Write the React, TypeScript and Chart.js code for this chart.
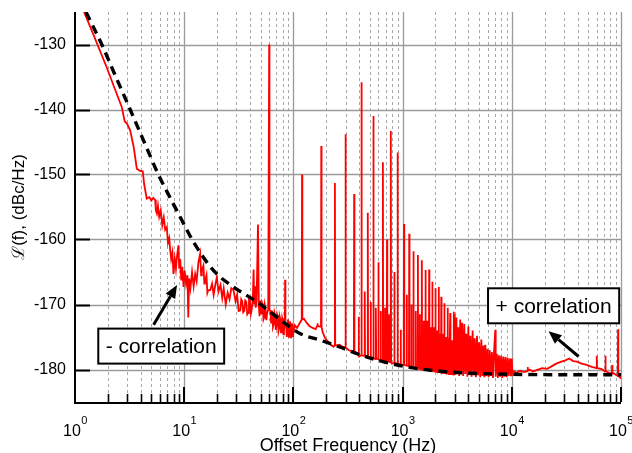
import React, { useEffect, useRef } from "react";
import { Chart, registerables } from "chart.js";

Chart.register(...registerables);

// ---------- axis definitions ----------
const xDecades = [1, 10, 100, 1000, 10000, 100000];
const xDecadeExp = ["0", "1", "2", "3", "4", "5"];
const xMinorMult = [2, 3, 4, 5, 6, 7, 8, 9];
const yTicks = [-180, -170, -160, -150, -140, -130];

// ---------- model curve (black dashed) ----------
const modelFreq = [1.26, 1.76, 2.3, 3.2, 4.3, 5.8, 7.5, 9.7, 12.2, 18.6, 28.3, 46.4, 94, 116, 177, 261, 474, 1100, 2750, 7940, 30000, 100000];
const modelLevel = [-125, -130, -134.5, -140, -145, -150, -153.7, -157.3, -160.4, -164.8, -167.3, -169.6, -173.5, -174.5, -175.5, -176.5, -178.1, -179.6, -180.4, -180.7, -180.8, -180.8];

// ---------- measured trace (red) : [freq Hz, dBc/Hz] ----------
const lowNoise: [number, number][] = [
  [1.21, -125], [1.5, -128.8], [1.95, -133.5], [2.3, -136.7], [2.68, -139.6], [2.85, -141.8], [3.0, -142.2],
  [3.2, -143.2], [3.45, -145.8], [3.68, -149.1], [3.9, -149.4], [4.17, -149.5], [4.3, -151.5], [4.54, -153.7],
  [4.8, -153.5], [5.0, -154], [5.2, -153.6], [5.42, -153.9], [5.5, -155.5], [5.62, -156], [5.75, -154.8],
  [5.9, -156.5], [6.1, -155.5], [6.3, -157.8], [6.5, -156.6], [6.7, -158.5], [6.93, -158.1], [7.1, -160.5],
  [7.3, -159.8], [7.45, -161.7], [7.6, -163], [7.8, -162], [7.97, -165.3], [8.2, -163], [8.4, -164.5],
  [8.6, -162.5], [8.86, -160.9], [9.0, -164.5], [9.2, -163], [9.4, -166.3], [9.6, -164.2], [9.86, -167.3],
  [10.1, -164.8], [10.4, -166.8], [10.7, -165.5], [10.9, -172], [11.1, -166], [11.4, -167.5], [11.8, -165],
  [12.2, -167.2], [12.6, -165.3], [13.0, -166.4], [13.5, -163.5], [14, -162.2], [14.3, -165.5], [14.5, -164.8],
  [15, -164], [15.3, -166.8], [15.5, -166.5], [16, -165.5], [16.3, -168.2], [16.6, -167.8], [17.3, -167.8],
  [18, -166.8], [18.6, -168.5], [19.3, -166.9], [19.9, -165.8], [20.6, -168], [21.5, -167], [22.3, -169],
  [23, -167.5], [24, -170], [25, -168.2], [26, -169.2], [27, -167.5], [28.3, -167.8], [29.5, -169.5],
  [30.5, -168.5], [31.5, -171],
];

const midNoise: [number, number][] = [
  [32.6, -170.9], [33.3, -169.2], [34, -169.5], [34.7, -171.2], [35.5, -171], [36.2, -169.4], [37, -169.6],
  [37.8, -171.5], [38.5, -171.3], [39.2, -169.1], [40, -169.4], [40.8, -171.4], [41.5, -170.8], [42.5, -169.2],
  [43.2, -164.6], [43.8, -170], [44.5, -167.2], [45.2, -170.5], [46, -169.5], [47.4, -157.7], [48.2, -170.2],
  [49, -171.8], [49.7, -169.4], [51, -171.5], [51.7, -169.8], [52.5, -170.2], [53.2, -172.3], [54, -172],
  [54.8, -170.1], [55.5, -170.5], [56.5, -172.4], [57.4, -171.4], [58.8, -170.8], [61.5, -171], [62.5, -172.8],
  [63.2, -170.9], [64, -171.5], [65, -173.4], [66, -173], [67, -171.3], [68, -171.8], [69, -173.9], [70, -173.2],
  [71, -171.6], [72, -172], [73, -174.1], [74, -173.6], [75, -171.9], [76, -172.3], [77, -174.3], [78, -173.8],
  [79, -172.1], [80, -172.5], [81, -174.6], [82, -174], [86, -173.2], [87, -175], [88, -174.2], [89, -172.3],
  [90, -172.8], [91, -175.1], [92, -174.6], [93, -172.6], [94, -173.2], [95, -175.2], [96, -174.8], [97, -172.9],
  [98, -173.3], [99, -175], [100, -174.3],
];

const highBase: [number, number][] = [
  [103, -173.2], [108, -173.6], [113, -173], [125, -172.2], [132, -172.8], [140, -173.3], [150, -173.6],
  [160, -173.8], [175, -173.4], [185, -174.2], [195, -175.2], [205, -175.6], [220, -176.2], [233, -176.5],
  [250, -176.3], [265, -176.2], [280, -176.5], [320, -177], [350, -177.3], [380, -177.6], [400, -178],
  [440, -177.9], [500, -178.2], [560, -178.4], [620, -178.6], [700, -178.9], [800, -179.1], [900, -179.2],
  [1000, -179.3], [1100, -179.4], [1250, -179.7], [1400, -179.9], [1600, -180], [1800, -180.2],
  [2000, -180.3], [2300, -180.5], [2600, -180.6], [2950, -180.8],
];

const bandNoise: [number, number][] = [
  [3000, -171.5], [3050, -180.8], [3110, -172], [3170, -180.5], [3230, -173.5], [3300, -181], [3370, -172.3],
  [3440, -180.6], [3510, -172.8], [3590, -181], [3670, -173], [3750, -180.7], [3830, -174.5], [3920, -181.1],
  [4000, -173.4], [4090, -180.8], [4180, -174.8], [4280, -181.1], [4380, -174], [4480, -180.9], [4580, -175.2],
  [4690, -181.2], [4800, -174.8], [4910, -180.9], [5020, -175.8], [5140, -181.2], [5260, -175.4], [5380, -181],
  [5500, -176.3], [5620, -181.2], [5720, -176.2], [5850, -181], [5990, -176.8], [6130, -181.2], [6270, -177],
  [6420, -181], [6570, -177.3], [6720, -181.3], [6880, -177.2], [7060, -173.9], [7120, -181.1], [7290, -177.6],
  [7460, -181.3], [7630, -177.8], [7810, -181.1], [7990, -177.9], [8180, -181.3], [8370, -178], [8570, -181.1],
  [8770, -178.1], [8970, -181.2], [9180, -178.2], [9400, -181], [9620, -178.3], [9840, -180.9], [10000, -178.3],
  [10100, -180.5],
];

const farNoise: [number, number][] = [
  [10300, -180.2], [11000, -180.5], [11900, -180.2], [13000, -180.4], [14500, -180], [15600, -180.3],
  [16900, -180.1], [19000, -179.8], [21000, -179.9], [22700, -179.6], [25500, -179.1], [28400, -178.8],
  [31000, -178.6], [33500, -178.3], [36500, -178.7], [39500, -178.8], [43500, -179.1], [48500, -179.3],
  [54000, -179.6], [66000, -179.9], [70000, -180.2], [78000, -180.5], [86000, -180.6], [91000, -180.9],
  [97000, -181.1], [100000, -181.4],
];

// spurs: frequency, peak level, floor level
const spurFreq = [60, 84, 120, 166, 180, 240, 300, 360, 396, 420, 450, 480, 510, 540, 570, 600, 630, 660, 690, 720, 750, 780, 840, 900, 960,
  1030, 1090, 1150, 1205, 1260, 1320, 1380, 1440, 1500, 1560, 1620, 1680, 1750, 1810, 1870, 1930, 2000, 2070, 2140, 2200, 2260, 2340, 2410,
  2500, 2580, 2660, 2730, 2830, 2930, 13960, 60000, 72000, 83000, 94000];
const spurPeak = [-130, -166.2, -150, -172.9, -145.6, -151.3, -143.8, -153, -171.9, -135.8, -168, -155.9, -169.6, -141, -170.5, -163.5, -171, -148.1, -170.5, -160, -171.5, -143.3, -165, -146.6, -173.9,
  -157.6, -168.5, -159.1, -170, -161.8, -171, -162.4, -171.5, -163.2, -172.5, -164.7, -172.5, -164.6, -173.5, -166.5, -173.5, -167.5, -174, -167.3, -174.5, -168.8, -174.5, -169.8,
  -175, -170.5, -175.2, -171.3, -175.5, -171.1, -179.6, -177.9, -177.9, -179.3, -173.8];
const spurFloor = [-170.8, -173, -172.3, -173.3, -173.4, -176.3, -176.6, -177.2, -177.8, -177.8, -177.9, -178, -178.1, -178.2, -178.3, -178.4, -178.5, -178.5, -178.6, -178.7, -178.8, -178.9, -179, -179.1, -179.2,
  -179.3, -179.4, -179.5, -179.6, -179.7, -179.8, -179.9, -179.9, -180, -180, -180.1, -180.1, -180.2, -180.2, -180.2, -180.3, -180.3, -180.4, -180.4, -180.4, -180.5, -180.5, -180.5,
  -180.6, -180.6, -180.7, -180.7, -180.7, -180.8, -180.2, -179.8, -180.3, -180.6, -181];

// annotations (data coordinates)
const annotations = [
  { text: "- correlation", f: 6.16, v: -176.4, tailF: 5.25, tailV: -173.1, tipF: 8.6, tipV: -167.0 },
  { text: "+ correlation", f: 24150, v: -170.2, tailF: 40900, tailV: -178.0, tipF: 21700, tipV: -174.1 },
];

const FONT = "'Liberation Sans', Arial, Helvetica, sans-serif";

function buildTrace() {
  const pts: { x: number; y: number }[] = [];
  for (const seg of [lowNoise, midNoise, highBase, bandNoise, farNoise]) {
    for (const [f, v] of seg) pts.push({ x: f, y: v });
  }
  spurFreq.forEach((f, i) => {
    pts.push({ x: f / 1.006, y: spurFloor[i] });
    pts.push({ x: f, y: spurPeak[i] });
    pts.push({ x: f * 1.006, y: spurFloor[i] });
  });
  pts.sort((a, b) => a.x - b.x);
  return pts;
}

const decorPlugin = {
  id: "decor",
  beforeDatasetsDraw(chart: any) {
    const { ctx, chartArea, scales } = chart;
    const { left, right, top, bottom } = chartArea;
    const xs = scales.x, ys = scales.y;
    ctx.save();
    ctx.strokeStyle = "#a8a8a8";
    ctx.lineWidth = 1;
    ctx.setLineDash([3, 3]);
    for (let d = 0; d < xDecades.length - 1; d++) {
      for (const m of xMinorMult) {
        const px = Math.round(xs.getPixelForValue(m * xDecades[d])) + 0.5;
        ctx.beginPath();
        ctx.moveTo(px, top);
        ctx.lineTo(px, bottom);
        ctx.stroke();
      }
    }
    ctx.setLineDash([]);
    ctx.strokeStyle = "#9a9a9a";
    ctx.lineWidth = 1.3;
    for (let d = 1; d < xDecades.length; d++) {
      const px = Math.round(xs.getPixelForValue(xDecades[d])) + 0.5;
      ctx.beginPath();
      ctx.moveTo(px, top);
      ctx.lineTo(px, bottom);
      ctx.stroke();
    }
    for (const t of yTicks) {
      const py = Math.round(ys.getPixelForValue(t)) + 0.5;
      ctx.beginPath();
      ctx.moveTo(left, py);
      ctx.lineTo(right, py);
      ctx.stroke();
    }
    ctx.restore();
  },
  afterDatasetsDraw(chart: any) {
    const { ctx, chartArea, scales } = chart;
    const { left, right, top, bottom } = chartArea;
    const xs = scales.x, ys = scales.y;
    ctx.save();
    ctx.strokeStyle = "#000";
    ctx.fillStyle = "#000";
    ctx.lineWidth = 2;
    ctx.beginPath();
    ctx.moveTo(left, top);
    ctx.lineTo(left, bottom + 1);
    ctx.lineTo(right, bottom + 1);
    ctx.stroke();
    for (const t of yTicks) {
      const py = Math.round(ys.getPixelForValue(t)) + 0.5;
      ctx.beginPath();
      ctx.moveTo(left, py);
      ctx.lineTo(left + 15, py);
      ctx.stroke();
    }
    for (let d = 0; d < xDecades.length; d++) {
      const px = Math.round(xs.getPixelForValue(xDecades[d]));
      ctx.lineWidth = 2;
      ctx.beginPath();
      ctx.moveTo(px, bottom);
      ctx.lineTo(px, bottom - 15);
      ctx.stroke();
      if (d < xDecades.length - 1) {
        ctx.lineWidth = 1.6;
        for (const m of xMinorMult) {
          const mx = Math.round(xs.getPixelForValue(m * xDecades[d])) + 0.5;
          ctx.beginPath();
          ctx.moveTo(mx, bottom);
          ctx.lineTo(mx, bottom - 8);
          ctx.stroke();
        }
      }
    }
    ctx.font = `16px ${FONT}`;
    ctx.textAlign = "right";
    ctx.textBaseline = "middle";
    for (const t of yTicks) {
      ctx.fillText(String(t), left - 9, ys.getPixelForValue(t));
    }
    ctx.textAlign = "left";
    ctx.textBaseline = "alphabetic";
    for (let d = 0; d < xDecades.length; d++) {
      const px = xs.getPixelForValue(xDecades[d]);
      ctx.font = `16px ${FONT}`;
      const wb = ctx.measureText("10").width;
      ctx.font = `11px ${FONT}`;
      const we = ctx.measureText(xDecadeExp[d]).width;
      const x0 = px - (wb + we) / 2;
      ctx.font = `16px ${FONT}`;
      ctx.fillText("10", x0, bottom + 34);
      ctx.font = `11px ${FONT}`;
      ctx.fillText(xDecadeExp[d], x0 + wb + 0.5, bottom + 22);
    }
    ctx.font = `18px ${FONT}`;
    ctx.textAlign = "center";
    ctx.fillText("Offset Frequency (Hz)", (left + right) / 2, 451);
    ctx.save();
    ctx.translate(19, (top + bottom) / 2);
    ctx.rotate(-Math.PI / 2);
    ctx.font = `17px ${FONT}`;
    ctx.textBaseline = "middle";
    ctx.fillText("ℒ(f), (dBc/Hz)", 0, 0);
    ctx.restore();

    for (const a of annotations) {
      const tx = xs.getPixelForValue(a.tailF), ty = ys.getPixelForValue(a.tailV);
      const hx = xs.getPixelForValue(a.tipF), hy = ys.getPixelForValue(a.tipV);
      const ang = Math.atan2(hy - ty, hx - tx);
      const hl = 13, hw = 5.5;
      const bx = hx - hl * Math.cos(ang), by = hy - hl * Math.sin(ang);
      ctx.lineWidth = 3;
      ctx.beginPath();
      ctx.moveTo(tx, ty);
      ctx.lineTo(bx, by);
      ctx.stroke();
      ctx.beginPath();
      ctx.moveTo(hx, hy);
      ctx.lineTo(bx + hw * Math.sin(ang), by - hw * Math.cos(ang));
      ctx.lineTo(bx - hw * Math.sin(ang), by + hw * Math.cos(ang));
      ctx.closePath();
      ctx.fill();

      ctx.font = `21px ${FONT}`;
      const cx = xs.getPixelForValue(a.f), cy = ys.getPixelForValue(a.v);
      const w = ctx.measureText(a.text).width + 15;
      const h = 35;
      ctx.fillStyle = "#fff";
      ctx.fillRect(cx - w / 2, cy - h / 2, w, h);
      ctx.lineWidth = 2;
      ctx.strokeRect(cx - w / 2, cy - h / 2, w, h);
      ctx.fillStyle = "#000";
      ctx.textAlign = "center";
      ctx.textBaseline = "middle";
      ctx.fillText(a.text, cx, cy + 1);
    }
    ctx.restore();
  },
};

export default function App() {
  const ref = useRef<HTMLCanvasElement>(null);
  useEffect(() => {
    const model = modelFreq.map((f, i) => ({ x: f, y: modelLevel[i] }));
    const chart = new Chart(ref.current as HTMLCanvasElement, {
      type: "line",
      data: {
        datasets: [
          {
            label: "model",
            data: model,
            borderColor: "#000",
            borderWidth: 3.4,
            borderDash: [9, 6],
            pointRadius: 0,
            cubicInterpolationMode: "monotone",
            fill: false,
            order: 0,
          },
          {
            label: "measured",
            data: buildTrace(),
            borderColor: "#ff0000",
            borderWidth: 1.8,
            pointRadius: 0,
            tension: 0,
            fill: false,
            order: 1,
          },
        ],
      },
      options: {
        responsive: false,
        animation: false,
        devicePixelRatio: 1,
        layout: { padding: { left: 75, right: 11, top: 12, bottom: 51 } },
        plugins: { legend: { display: false }, tooltip: { enabled: false } },
        scales: {
          x: { type: "logarithmic", min: 1, max: 100000, display: false },
          y: { type: "linear", min: -185, max: -125, display: false },
        },
      },
      plugins: [decorPlugin],
    } as any);
    return () => chart.destroy();
  }, []);
  return (
    <div style={{ position: "absolute", left: 0, top: 0, width: 632, height: 453, background: "#fff" }}>
      <canvas ref={ref} width={632} height={453} style={{ display: "block" }} />
    </div>
  );
}
